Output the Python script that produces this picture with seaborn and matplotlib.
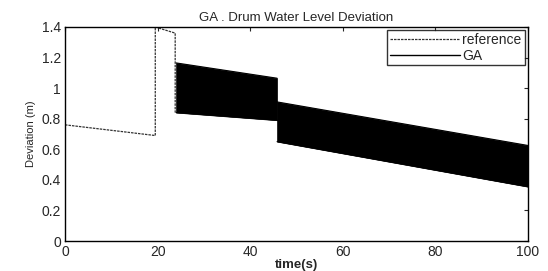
import numpy as np
import pandas as pd
import matplotlib
matplotlib.use("Agg")
import matplotlib.pyplot as plt
import seaborn as sns
from matplotlib.lines import Line2D

# Reference trajectory (time, deviation)
ref_t = [0, 19.5, 19.5, 23.8, 23.8]
ref_y = [0.76, 0.69, 1.40, 1.36, 0.84]

# GA response: envelope of the dense oscillation, two segments
ga1_t = [24.0, 45.8]
ga1_hi = [1.165, 1.065]
ga1_lo = [0.84, 0.79]
ga2_t = [45.8, 100.0]
ga2_hi = [0.91, 0.625]
ga2_lo = [0.65, 0.355]

x_ticks = [0, 20, 40, 60, 80, 100]
y_ticks = [0, 0.2, 0.4, 0.6, 0.8, 1.0, 1.2, 1.4]
y_labels = ["0", "0.2", "0.4", "0.6", "0.8", "1", "1.2", "1.4"]

sns.set_style("white")
plt.rcParams['font.family'] = ['Liberation Sans', 'DejaVu Sans']

fig = plt.figure(figsize=(5.48, 2.71), dpi=100)
ax = fig.add_axes([0.1186, 0.1107, 0.8449, 0.7897])

ref_df = pd.DataFrame({"t": ref_t, "y": ref_y})
sns.lineplot(data=ref_df, x="t", y="y", sort=False, estimator=None, ax=ax,
             color="#333333", lw=0.9, linestyle=(0, (2.0, 0.8)))

for t, hi, lo in [(ga1_t, ga1_hi, ga1_lo), (ga2_t, ga2_hi, ga2_lo)]:
    ax.fill_between(t, lo, hi, color="black", lw=0.5, edgecolor="black")
    seg = pd.DataFrame({"t": t + t, "y": hi + lo, "s": ["hi"] * len(t) + ["lo"] * len(t)})
    sns.lineplot(data=seg, x="t", y="y", units="s", estimator=None, ax=ax,
                 color="black", lw=0.8)

ax.set_xlim(0, 100)
ax.set_ylim(0, 1.4)
ax.set_xticks(x_ticks)
ax.set_yticks(y_ticks)
ax.set_yticklabels(y_labels)
ax.tick_params(direction="in", length=3, top=True, right=True,
               labelsize=10, width=0.8, pad=3)
for s in ax.spines.values():
    s.set_color("black")
    s.set_linewidth(1.0)

ax.set_title("GA . Drum Water Level Deviation", fontsize=9.5, pad=4)
ax.set_xlabel("time(s)", fontsize=9.5, labelpad=0, fontweight="bold")
ax.set_ylabel("Deviation (m)", fontsize=8, labelpad=4)

handles = [Line2D([], [], color="#333333", lw=0.9, linestyle=(0, (2.0, 0.8))),
           Line2D([], [], color="black", lw=1.0)]
leg = ax.legend(handles, ["reference", "GA"], loc="upper right", fontsize=10,
                frameon=True, fancybox=False, edgecolor="black",
                borderpad=0.2, labelspacing=0.1, handlelength=5.0,
                handletextpad=0.2, borderaxespad=0.25)
leg.get_frame().set_linewidth(1.0)

fig.savefig("out.png", dpi=100)
